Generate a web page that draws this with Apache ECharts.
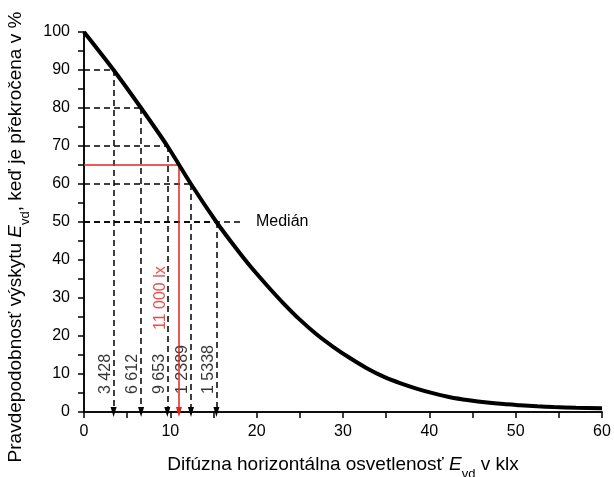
<!DOCTYPE html>
<html>
<head>
<meta charset="utf-8">
<script src="https://cdn.jsdelivr.net/npm/echarts@6/dist/echarts.min.js"></script>
<style>
  html, body { margin: 0; padding: 0; background: #fff; }
  #chart { width: 614px; height: 477px; }
</style>
</head>
<body>
<div id="chart"></div>
<script>
// krivka pravdepodobnosti (odcitane z obrazku)
const curveX = [0, 3.428, 6.612, 9.653, 12.389, 15.338, 17.3, 19.24, 21.2, 23.1, 25.0, 26.96, 28.9, 30.8, 32.7, 34.7, 36.6, 38.6, 40.5, 42.4, 44.6, 46.7, 48.6, 50.5, 52.5, 54.4, 57, 60]
const curveY = [100, 90, 80, 70, 60, 50, 44.0, 38.4, 33.3, 28.6, 24.3, 20.4, 17.1, 14.2, 11.6, 9.3, 7.6, 6.1, 4.9, 3.9, 3.1, 2.5, 2.1, 1.8, 1.5, 1.3, 1.1, 1.0]

// odcitane hodnoty (dashed)
const markX = [3.428, 6.612, 9.653, 12.389, 15.338]
const markY = [90, 80, 70, 60, 50]
const markLabels = ['3 428', '6 612', '9 653', '1 2389', '1 5338']
const medianEndX = 18.3
const medianLabel = 'Medián'

// navrhova hodnota
const designX = 11.0
const designY = 65
const designLabel = '11 000 lx'

const xMin = 0, xMax = 60, xStep = 10
const yMin = 0, yMax = 100, yStep = 10

const FONT = 'Liberation Sans'
const RED = '#e3231f'

const curveData = curveX.map((x, i) => [x, curveY[i]])

const dashLines = []
markX.forEach((x, i) => {
  // horizontal
  dashLines.push([{ coord: [xMin, markY[i]] }, { coord: [x, markY[i]] }])
  // vertical with arrow
  dashLines.push([{ coord: [x, markY[i]] }, { coord: [x, yMin], symbol: 'triangle', symbolSize: [6, 10] }])
})
// median extended
dashLines.push([
  { coord: [xMin, 50] },
  { coord: [medianEndX, 50], label: { show: true, position: 'end', formatter: medianLabel, distance: 14, fontSize: 16, fontFamily: FONT, color: '#000' } }
])

function nameRich (size) {
  let sub = Math.round(size * 0.68)
  return {
    n: { fontSize: size, fontFamily: FONT, color: '#000', lineHeight: size + 4, verticalAlign: 'top' },
    i: { fontSize: size, fontFamily: FONT, color: '#000', fontStyle: 'italic', lineHeight: size + 4, verticalAlign: 'top' },
    s: { fontSize: sub, fontFamily: FONT, color: '#000', lineHeight: sub, padding: [sub, 0, 0, 0], verticalAlign: 'top' }
  }
}

const axisLine = { show: true, lineStyle: { color: '#000', width: 1.5 } }

let myChart = echarts.init(document.getElementById('chart'))
let option = {
  animation: false,
  backgroundColor: '#fff',
  grid: { left: 84, right: 12, top: 32, bottom: 65, containLabel: false, outerBoundsMode: 'none' },
  xAxis: [
    {
      type: 'value', min: xMin, max: xMax, interval: xStep,
      position: 'bottom',
      axisLine: axisLine,
      axisTick: { show: true, inside: false, length: 5, lineStyle: { color: '#000', width: 1.5 } },
      minorTick: { show: true, splitNumber: 2, length: 3, lineStyle: { color: '#000', width: 1.5 } },
      splitLine: { show: false },
      axisLabel: { fontSize: 16, fontFamily: FONT, color: '#000', margin: 12 },
      name: '{n|Difúzna horizontálna osvetlenosť }{i|E}{s|vd}{n| v klx}',
      nameLocation: 'middle',
      nameGap: 43,
      nameTextStyle: { rich: nameRich(19) }
    },
    {
      type: 'value', min: xMin, max: xMax, interval: xStep,
      position: 'top',
      axisLine: axisLine,
      axisTick: { show: true, inside: true, length: 6, lineStyle: { color: '#000', width: 1.5 } },
      minorTick: { show: true, splitNumber: 2, length: 6, lineStyle: { color: '#000', width: 1.5 } },
      splitLine: { show: false },
      axisLabel: { show: false }
    }
  ],
  yAxis: [
    {
      type: 'value', min: yMin, max: yMax, interval: yStep,
      position: 'left',
      axisLine: axisLine,
      axisTick: { show: true, inside: false, length: 5, lineStyle: { color: '#000', width: 1.5 } },
      minorTick: { show: true, splitNumber: 2, length: 3, lineStyle: { color: '#000', width: 1.5 } },
      splitLine: { show: false },
      axisLabel: { fontSize: 16, fontFamily: FONT, color: '#000', margin: 14 },
      name: '{n|Pravdepodobnosť výskytu }{i|E}{s|vd}{n|, keď je překročena v %}',
      nameLocation: 'middle',
      nameRotate: 90,
      nameGap: 50,
      nameTextStyle: { rich: nameRich(19), padding: [0, 30, 0, 0] }
    },
    {
      type: 'value', min: yMin, max: yMax, interval: yStep,
      position: 'right',
      axisLine: axisLine,
      axisTick: { show: true, inside: true, length: 6, lineStyle: { color: '#000', width: 1.5 } },
      minorTick: { show: true, splitNumber: 2, length: 6, lineStyle: { color: '#000', width: 1.5 } },
      splitLine: { show: false },
      axisLabel: { show: false }
    }
  ],
  series: [
    {
      // cierne ciarkovane odcitania
      type: 'line',
      data: [],
      z: 2,
      markLine: {
        silent: true,
        symbol: ['none', 'none'],
        label: { show: false },
        lineStyle: { color: '#000', width: 1.5, type: [6, 4] },
        emphasis: { disabled: true },
        data: dashLines
      }
    },
    {
      // cervena navrhova hodnota
      type: 'line',
      data: [],
      z: 3,
      markLine: {
        silent: true,
        symbol: ['none', 'none'],
        label: { show: false },
        lineStyle: { color: RED, width: 1.5, type: 'solid' },
        emphasis: { disabled: true },
        data: [
          [{ coord: [xMin, designY] }, { coord: [designX, designY] }],
          [{ coord: [designX, designY] }, { coord: [designX, yMin], symbol: 'triangle', symbolSize: [6, 10] }]
        ]
      }
    },
    {
      // krivka
      type: 'line',
      data: curveData,
      smooth: 0.3,
      showSymbol: false,
      z: 5,
      lineStyle: { color: '#000', width: 4 },
      itemStyle: { color: '#000' }
    },
    {
      // popisky hodnot
      type: 'scatter',
      data: markX.map((x, i) => ({ value: [x, yMin], name: markLabels[i] })),
      symbolSize: 0,
      silent: true,
      label: {
        show: true,
        formatter: p => p.name,
        position: 'inside',
        rotate: 90,
        align: 'left',
        verticalAlign: 'bottom',
        offset: [18, 0],
        fontSize: 16,
        fontFamily: FONT,
        color: '#000'
      }
    },
    {
      type: 'scatter',
      data: [{ value: [designX, yMin], name: designLabel }],
      symbolSize: 0,
      silent: true,
      label: {
        show: true,
        formatter: p => p.name,
        position: 'inside',
        rotate: 90,
        align: 'left',
        verticalAlign: 'bottom',
        offset: [82, 0],
        padding: [0, 0, 10, 0],
        fontSize: 16,
        fontFamily: FONT,
        color: RED
      }
    }
  ]
}
myChart.setOption(option)
</script>
</body>
</html>
